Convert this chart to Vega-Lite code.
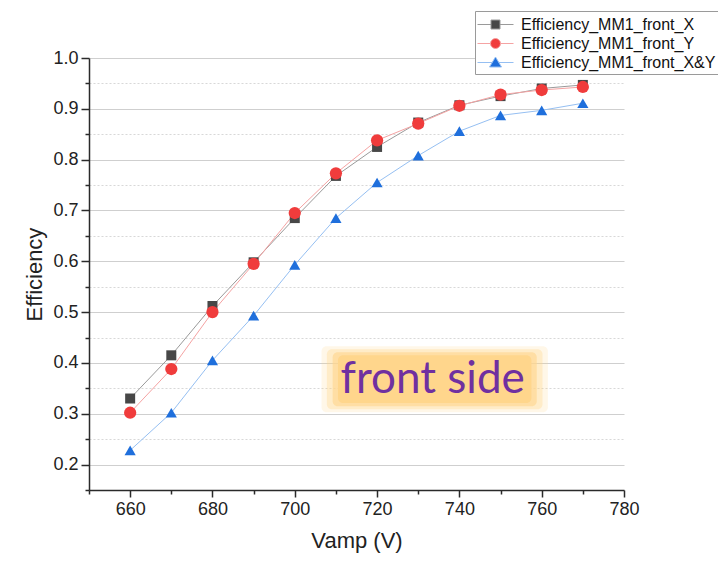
{
  "$schema": "https://vega.github.io/schema/vega-lite/v6.json",
  "autosize": "none",
  "width": 535,
  "height": 432,
  "padding": {"left": 89, "top": 58, "right": 94, "bottom": 72},
  "background": "white",
  "config": {
    "view": {"stroke": null},
    "axis": {
      "domainColor": "#2a2a2a",
      "domainWidth": 1.5,
      "tickColor": "#2a2a2a",
      "tickWidth": 1.5,
      "labelFont": "Liberation Sans",
      "labelFontSize": 18,
      "labelColor": "#222222",
      "titleFont": "Liberation Sans",
      "titleFontSize": 22,
      "titleFontWeight": "normal",
      "titleColor": "#222222"
    }
  },
  "datasets": {
    "eff": [
      {"v": 660, "eff": 0.330, "series": "Efficiency_MM1_front_X"},
      {"v": 670, "eff": 0.415, "series": "Efficiency_MM1_front_X"},
      {"v": 680, "eff": 0.512, "series": "Efficiency_MM1_front_X"},
      {"v": 690, "eff": 0.598, "series": "Efficiency_MM1_front_X"},
      {"v": 700, "eff": 0.685, "series": "Efficiency_MM1_front_X"},
      {"v": 710, "eff": 0.768, "series": "Efficiency_MM1_front_X"},
      {"v": 720, "eff": 0.825, "series": "Efficiency_MM1_front_X"},
      {"v": 730, "eff": 0.873, "series": "Efficiency_MM1_front_X"},
      {"v": 740, "eff": 0.907, "series": "Efficiency_MM1_front_X"},
      {"v": 750, "eff": 0.925, "series": "Efficiency_MM1_front_X"},
      {"v": 760, "eff": 0.940, "series": "Efficiency_MM1_front_X"},
      {"v": 770, "eff": 0.947, "series": "Efficiency_MM1_front_X"},
      {"v": 660, "eff": 0.302, "series": "Efficiency_MM1_front_Y"},
      {"v": 670, "eff": 0.388, "series": "Efficiency_MM1_front_Y"},
      {"v": 680, "eff": 0.500, "series": "Efficiency_MM1_front_Y"},
      {"v": 690, "eff": 0.595, "series": "Efficiency_MM1_front_Y"},
      {"v": 700, "eff": 0.695, "series": "Efficiency_MM1_front_Y"},
      {"v": 710, "eff": 0.773, "series": "Efficiency_MM1_front_Y"},
      {"v": 720, "eff": 0.838, "series": "Efficiency_MM1_front_Y"},
      {"v": 730, "eff": 0.871, "series": "Efficiency_MM1_front_Y"},
      {"v": 740, "eff": 0.906, "series": "Efficiency_MM1_front_Y"},
      {"v": 750, "eff": 0.928, "series": "Efficiency_MM1_front_Y"},
      {"v": 760, "eff": 0.937, "series": "Efficiency_MM1_front_Y"},
      {"v": 770, "eff": 0.943, "series": "Efficiency_MM1_front_Y"},
      {"v": 660, "eff": 0.228, "series": "Efficiency_MM1_front_X&Y"},
      {"v": 670, "eff": 0.302, "series": "Efficiency_MM1_front_X&Y"},
      {"v": 680, "eff": 0.405, "series": "Efficiency_MM1_front_X&Y"},
      {"v": 690, "eff": 0.493, "series": "Efficiency_MM1_front_X&Y"},
      {"v": 700, "eff": 0.593, "series": "Efficiency_MM1_front_X&Y"},
      {"v": 710, "eff": 0.685, "series": "Efficiency_MM1_front_X&Y"},
      {"v": 720, "eff": 0.755, "series": "Efficiency_MM1_front_X&Y"},
      {"v": 730, "eff": 0.808, "series": "Efficiency_MM1_front_X&Y"},
      {"v": 740, "eff": 0.856, "series": "Efficiency_MM1_front_X&Y"},
      {"v": 750, "eff": 0.887, "series": "Efficiency_MM1_front_X&Y"},
      {"v": 760, "eff": 0.897, "series": "Efficiency_MM1_front_X&Y"},
      {"v": 770, "eff": 0.911, "series": "Efficiency_MM1_front_X&Y"}
    ],
    "glow": [
      {"x1": 706.5, "x2": 761.5, "y1": 0.303, "y2": 0.433, "op": 0.2},
      {"x1": 707.8, "x2": 760.2, "y1": 0.309, "y2": 0.427, "op": 0.35},
      {"x1": 709.2, "x2": 758.8, "y1": 0.315, "y2": 0.421, "op": 0.6},
      {"x1": 710.5, "x2": 757.5, "y1": 0.321, "y2": 0.415, "op": 1}
    ],
    "note": [
      {"x": 733.5, "y": 0.34, "label": "front side"}
    ]
  },
  "layer": [
    {
      "data": {"name": "glow"},
      "mark": {"type": "rect", "color": "#ffd68c", "cornerRadius": 5},
      "encoding": {
        "x": {"field": "x1", "type": "quantitative"},
        "x2": {"field": "x2"},
        "y": {"field": "y1", "type": "quantitative"},
        "y2": {"field": "y2"},
        "opacity": {"field": "op", "type": "quantitative", "scale": null, "legend": null}
      }
    },
    {
      "data": {"name": "note"},
      "mark": {"type": "text", "font": "Lato", "fontSize": 44, "color": "#7030a0", "baseline": "alphabetic", "align": "center"},
      "encoding": {
        "x": {"field": "x", "type": "quantitative"},
        "y": {"field": "y", "type": "quantitative"},
        "text": {"field": "label"}
      }
    },
    {
      "data": {"name": "eff"},
      "mark": {"type": "line", "strokeWidth": 1},
      "encoding": {
        "x": {
          "field": "v", "type": "quantitative",
          "scale": {"domain": [650, 780], "nice": false, "zero": false},
          "axis": {
            "title": "Vamp (V)",
            "values": [650, 660, 670, 680, 690, 700, 710, 720, 730, 740, 750, 760, 770, 780],
            "tickCount": 100,
            "labelExpr": "datum.value % 20 == 0 ? datum.label : ''",
            "tickSize": {"condition": {"test": "datum.value % 20 != 0", "value": 4}, "value": 7},
            "grid": false,
            "labelPadding": 3,
            "titlePadding": 12,
            "labelFlush": false,
            "labelOverlap": false
          }
        },
        "y": {
          "field": "eff", "type": "quantitative",
          "scale": {"domain": [0.15, 1.0], "nice": false, "zero": false},
          "axis": {
            "title": "Efficiency",
            "values": [0.15, 0.2, 0.25, 0.3, 0.35, 0.4, 0.45, 0.5, 0.55, 0.6, 0.65, 0.7, 0.75, 0.8, 0.85, 0.9, 0.95, 1.0],
            "tickCount": 100,
            "labelExpr": "round(datum.value*100) % 10 == 0 ? format(datum.value, '.1f') : ''",
            "tickSize": {"condition": {"test": "round(datum.value*100) % 10 != 0", "value": 4}, "value": 8},
            "grid": true,
            "gridColor": {"condition": {"test": "round(datum.value*100) % 10 != 0", "value": "#d8d8d8"}, "value": "#cfcfcf"},
            "gridDash": {"condition": {"test": "round(datum.value*100) % 10 != 0", "value": [2, 2]}, "value": []},
            "gridWidth": 1.2,
            "labelPadding": 3,
            "titlePadding": 6,
            "labelFlush": false,
            "labelOverlap": false
          }
        },
        "stroke": {
          "field": "series", "type": "nominal",
          "scale": {"domain": ["Efficiency_MM1_front_X&Y", "Efficiency_MM1_front_X", "Efficiency_MM1_front_Y"], "range": ["#95bff2", "#9a9a9a", "#f5a3a3"]},
          "legend": null
        }
      }
    },
    {
      "data": {"name": "eff"},
      "mark": {"type": "point", "filled": true, "opacity": 1},
      "encoding": {
        "x": {"field": "v", "type": "quantitative"},
        "y": {"field": "eff", "type": "quantitative"},
        "color": {
          "field": "series", "type": "nominal",
          "scale": {"domain": ["Efficiency_MM1_front_X", "Efficiency_MM1_front_Y", "Efficiency_MM1_front_X&Y"], "range": ["#474747", "#f03c3c", "#1f6fdc"]},
          "legend": {
            "title": null,
            "orient": "none",
            "legendX": 386,
            "legendY": -47,
            "padding": 3,
            "symbolSize": 400,
            "labelOffset": 22,
            "labelFont": "Liberation Sans",
            "labelFontSize": 16,
            "labelColor": "#111111",
            "labelLimit": 400,
            "rowPadding": 0,
            "strokeColor": "#9a9a9a",
            "fillColor": "white",
            "symbolStrokeWidth": 1,
            "symbolOpacity": 1,
            "encode": {
              "symbols": {
                "update": {
                  "shape": {"signal": "datum.value === 'Efficiency_MM1_front_X' ? 'M-1.1,0H0.25M1.15,0H2.5M0.25,-0.45H1.15V0.45H0.25Z' : datum.value === 'Efficiency_MM1_front_Y' ? 'M-1.1,0H0.2M1.2,0H2.5M1.2,0A0.5,0.5,0,1,1,0.2,0A0.5,0.5,0,1,1,1.2,0Z' : 'M-1.1,0H0.37M1.03,0H2.5M0.7,-0.55L1.3,0.45L0.1,0.45Z'"},
                  "stroke": {"signal": "datum.value === 'Efficiency_MM1_front_X' ? '#9a9a9a' : datum.value === 'Efficiency_MM1_front_Y' ? '#f5a3a3' : '#95bff2'"},
                  "strokeWidth": {"value": 1},
                  "size": {"value": 400}
                }
              }
            }
          }
        },
        "shape": {
          "field": "series", "type": "nominal",
          "scale": {"domain": ["Efficiency_MM1_front_Y", "Efficiency_MM1_front_X", "Efficiency_MM1_front_X&Y"], "range": ["circle", "square", "triangle-up"]},
          "legend": null
        },
        "size": {
          "field": "series", "type": "ordinal",
          "scale": {"domain": ["Efficiency_MM1_front_X", "Efficiency_MM1_front_X&Y", "Efficiency_MM1_front_Y"], "range": [100, 150, 115]},
          "legend": null
        }
      }
    }
  ]
}
